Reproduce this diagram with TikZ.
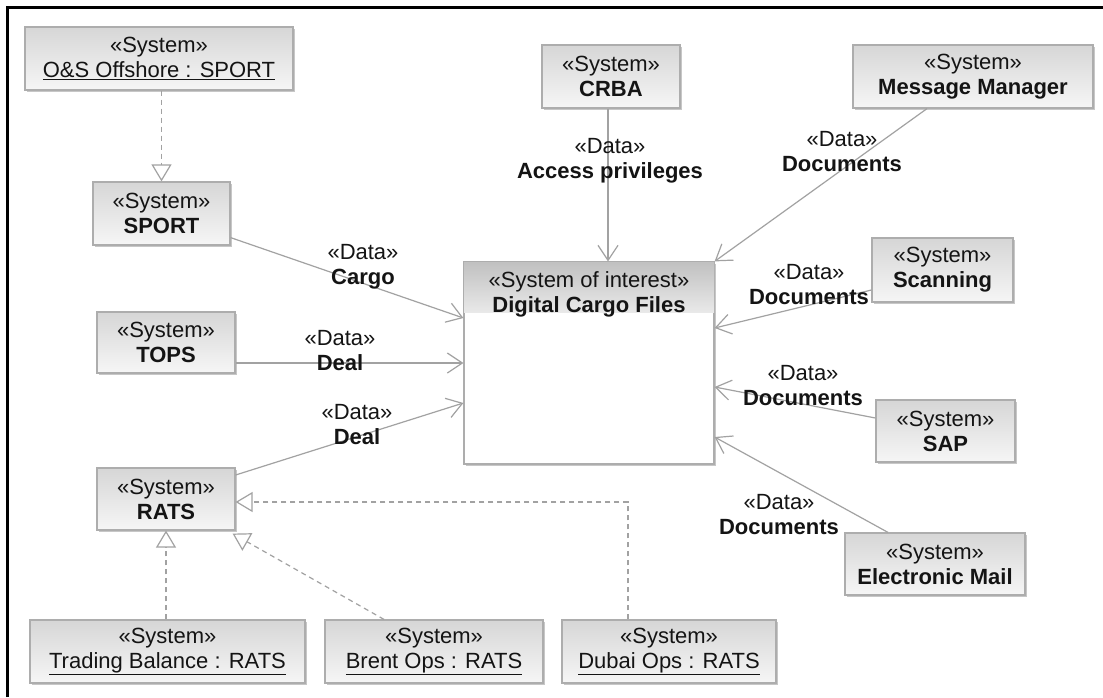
\documentclass[tikz,border=0pt]{standalone}
\usepackage{fontspec}
\setmainfont{Liberation Sans}
\usetikzlibrary{arrows.meta,shadows}

\definecolor{linegray}{HTML}{A2A2A2}
\definecolor{boxedge}{HTML}{ADADAD}
\definecolor{boxtop}{HTML}{D6D6D6}
\definecolor{boxbot}{HTML}{F6F6F6}
\definecolor{ink}{HTML}{141414}

\newcommand{\umlfont}{\fontsize{22}{25}\selectfont}
\newcommand{\instname}[1]{\underline{#1}}

\tikzset{
  sysbox/.style={draw=boxedge, line width=1.2pt, top color=boxtop, bottom color=boxbot,
    align=center, text=ink, font=\umlfont, inner sep=0pt,
    drop shadow={opacity=0.22, shadow xshift=2pt, shadow yshift=-2pt, fill=black}},
  focusbox/.style={draw=boxedge, line width=1.2pt, fill=white, inner sep=0pt,
    drop shadow={opacity=0.22, shadow xshift=2pt, shadow yshift=-2pt, fill=black}},
  lbl/.style={align=center, text=ink, font=\umlfont, inner sep=0pt},
  flow/.style={draw=linegray, line width=1.2pt,
    -{Straight Barb[length=15pt,width=20pt]}},
  realize/.style={draw=linegray, line width=1.2pt, dash pattern=on 5pt off 4pt,
    -{Triangle[open,length=17pt,width=20pt,fill=white]}},
}

\begin{document}
\begin{tikzpicture}[x=1pt, y=-1pt]
  \useasboundingbox (0,0) rectangle (1103,697);
  \fill[white] (0,0) rectangle (1103,697);

  % diagram frame
  \draw[line width=3pt, black] (7,697) -- (7,7) -- (1103,7);

  % system of interest
  \node[focusbox, minimum width=250pt, minimum height=202pt] (dcf) at (589,363) {};
  \fill[top color=boxtop!90!black, bottom color=boxbot!60!boxtop]
    ([xshift=0.6pt,yshift=-0.6pt]dcf.north west) rectangle ([xshift=-0.6pt,yshift=-51pt]dcf.north east);
  \node[lbl] (dcftitle) at (589,294) {«System of interest»\\\textbf{Digital Cargo Files}};

  % external systems
  \node[sysbox, minimum width=268pt, minimum height=63pt] (os) at (159,58.5)
    {«System»\\\instname{O\&S Offshore : SPORT}};
  \node[sysbox, minimum width=137pt, minimum height=63pt] (sport) at (161.5,213.5)
    {«System»\\\textbf{SPORT}};
  \node[sysbox, minimum width=138pt, minimum height=61pt] (tops) at (166,342.5)
    {«System»\\\textbf{TOPS}};
  \node[sysbox, minimum width=138pt, minimum height=62pt] (rats) at (166,499)
    {«System»\\\textbf{RATS}};
  \node[sysbox, minimum width=275pt, minimum height=63pt] (tb) at (167.5,651.5)
    {«System»\\\instname{Trading Balance : RATS}};
  \node[sysbox, minimum width=218pt, minimum height=63pt] (brent) at (434,651.5)
    {«System»\\\instname{Brent Ops : RATS}};
  \node[sysbox, minimum width=214pt, minimum height=63pt] (dubai) at (669,651.5)
    {«System»\\\instname{Dubai Ops : RATS}};
  \node[sysbox, minimum width=138pt, minimum height=63pt] (crba) at (611,76.5)
    {«System»\\\textbf{CRBA}};
  \node[sysbox, minimum width=240pt, minimum height=63pt] (mm) at (973,76.5)
    {«System»\\\textbf{Message Manager}};
  \node[sysbox, minimum width=141pt, minimum height=64pt] (scan) at (942.5,270)
    {«System»\\\textbf{Scanning}};
  \node[sysbox, minimum width=139pt, minimum height=62pt] (sap) at (945.5,431)
    {«System»\\\textbf{SAP}};
  \node[sysbox, minimum width=180pt, minimum height=62pt] (em) at (935,564)
    {«System»\\\textbf{Electronic Mail}};

  % realizations
  \draw[realize] (sport.north |- os.south) -- (sport.north);
  \draw[realize] (rats.south |- tb.north) -- (rats.south);
  \draw[realize] ([xshift=-50pt]brent.north) -- ([xshift=-3pt,yshift=-3pt]rats.south east);
  \draw[realize] ([xshift=-41pt]dubai.north) |- ([yshift=-3pt]rats.east);

  % data flows
  \draw[flow] ([yshift=8pt]sport.south east) -- ([yshift=45pt]dcf.west);
  \draw[flow] (tops.east |- dcf.west) -- (dcf.west);
  \draw[flow] ([yshift=24pt]rats.east) -- ([yshift=-40pt]dcf.west);
  \draw[flow] ([xshift=-3pt]crba.south) -- ([xshift=-3pt]crba.south |- dcf.north);
  \draw[flow] ([xshift=-46pt]mm.south) -- (dcf.north east);
  \draw[flow] ([yshift=-20pt]scan.west) -- ([yshift=35pt]dcf.east);
  \draw[flow] ([yshift=13pt]sap.west) -- ([yshift=-24pt]dcf.east);
  \draw[flow] ([xshift=-47pt]em.north) -- ([yshift=-74pt]dcf.east);

  % flow labels
  \node[lbl] (lcrba)  at (610,160.5) {«Data»\\\textbf{Access privileges}};
  \node[lbl] (lsport) at (363,267)   {«Data»\\\textbf{Cargo}};
  \node[lbl] (ltops)  at (340,350.5) {«Data»\\\textbf{Deal}};
  \node[lbl] (lrats)  at (357,425)   {«Data»\\\textbf{Deal}};
  \node[lbl] (lmm)    at (842,151.5) {«Data»\\\textbf{Documents}};
  \node[lbl] (lscan)  at (809,284.5) {«Data»\\\textbf{Documents}};
  \node[lbl] (lsap)   at (803,385.5) {«Data»\\\textbf{Documents}};
  \node[lbl] (lem)    at (779,515)   {«Data»\\\textbf{Documents}};
\end{tikzpicture}
\end{document}
